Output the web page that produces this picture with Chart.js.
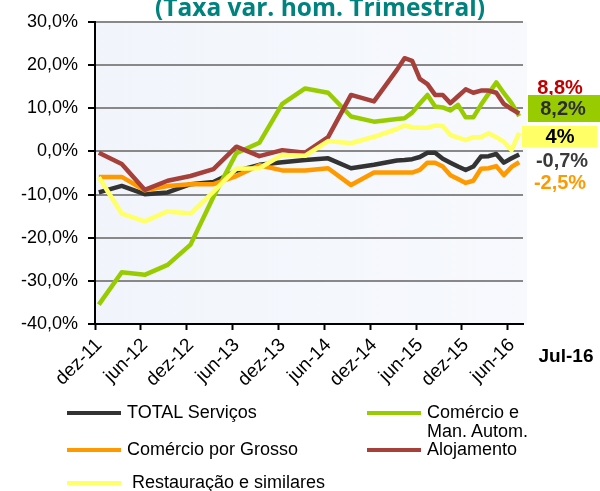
<!DOCTYPE html>
<html>
<head>
<meta charset="utf-8">
<script src="https://cdn.jsdelivr.net/npm/chart.js@4.4.0/dist/chart.umd.min.js"></script>
<style>
html,body{margin:0;padding:0;background:#fff;}
#wrap{position:relative;width:600px;height:491px;overflow:hidden;}
#c{position:absolute;left:0;top:0;}
.lg{position:absolute;font-family:"Liberation Sans",Arial,sans-serif;font-size:18px;line-height:19px;color:#000;white-space:nowrap;}
.lg .sw{position:absolute;left:0;top:8px;width:54px;height:4px;}
.lg .tx{position:absolute;left:60px;top:0;}
</style>
</head>
<body>
<div id="wrap">
<canvas id="c" width="600" height="491"></canvas>
<div id="legend"></div>
</div>
<script>
// ---- data (month index: 0 = dez-11) ----
const months = [0,3,6,9,12,15,18,21,24,27,30,33,36,39,40,41,42,43,44,45,46,47,48,49,50,51,52,53,54,55];
const totalServicos = [-9.5,-8.0,-9.9,-9.5,-7.6,-7.1,-4.5,-3.1,-2.5,-2.0,-1.6,-3.9,-3.1,-2.1,-2.0,-1.8,-1.3,-0.3,-0.3,-1.7,-2.6,-3.5,-4.3,-3.5,-1.2,-1.1,-0.6,-2.6,-1.6,-0.7];
const comercioAutom = [-35.5,-28.0,-28.6,-26.3,-21.6,-10.5,-0.4,2.0,11.0,14.6,13.6,8.1,6.9,7.5,7.7,9.0,11.1,13.1,10.4,10.2,9.5,10.8,7.9,7.9,10.8,13.4,16.0,13.5,11.2,8.2];
const comercioGrosso = [-5.9,-5.9,-9.0,-8.0,-7.6,-7.6,-5.7,-3.2,-4.4,-4.4,-3.9,-7.8,-4.9,-4.9,-4.9,-4.9,-4.3,-2.6,-2.6,-3.5,-5.5,-6.4,-7.3,-6.8,-4.0,-3.9,-3.4,-5.5,-3.6,-2.5];
const alojamento = [-0.3,-2.9,-8.9,-6.8,-5.7,-4.1,1.1,-1.1,0.3,-0.3,3.3,13.1,11.6,18.9,21.6,21.0,16.8,15.6,13.1,13.1,11.2,12.8,14.4,13.6,14.1,14.1,13.6,11.0,9.8,8.8];
const restauracao = [-6.0,-14.4,-16.2,-13.9,-14.4,-9.3,-4.0,-3.9,-0.8,-1.0,2.4,1.9,3.4,5.2,6.0,5.6,5.5,5.5,6.0,5.9,3.8,3.2,2.6,3.3,3.3,4.2,3.3,2.2,0.3,4.3];

const seriesNames = ['TOTAL Serviços','Comércio e Man. Autom.','Comércio por Grosso','Alojamento','Restauração e similares'];
const xTickMonths = [0,6,12,18,24,30,36,42,48,54];
const xTickLabels = ['dez-11','jun-12','dez-12','jun-13','dez-13','jun-14','dez-14','jun-15','dez-15','jun-16'];
const yTickValues = [30,20,10,0,-10,-20,-30,-40];
const titleText = '(Taxa var. hom. Trimestral)';
const lastMonthLabel = 'Jul-16';
const endLabels = ['8,8%','8,2%','4%','-0,7%','-2,5%'];

// ---- styles ----
const colors = ['#333333','#99cc00','#ff9900','#a5403a','#ffff66'];
const drawOrder = [4,3,2,1,0];
const valueSets = [totalServicos, comercioAutom, comercioGrosso, alojamento, restauracao];
const FONT = '"Liberation Sans", Arial, sans-serif';

const datasets = valueSets.map((vals, k) => ({
  label: seriesNames[k],
  data: months.map((m, i) => ({x: m + 0.5, y: vals[i]})),
  borderColor: colors[k],
  backgroundColor: colors[k],
  borderWidth: 4.5,
  pointRadius: 0,
  tension: 0,
  fill: false,
  borderJoinStyle: 'round',
  order: drawOrder[k]
}));

const bgPlugin = {
  id: 'bg',
  beforeDraw(chart) {
    const {ctx, chartArea: a} = chart;
    ctx.save();
    const g = ctx.createLinearGradient(a.left, 0, a.right, 0);
    g.addColorStop(0, '#f1f5fb');
    g.addColorStop(1, '#f7f9fd');
    ctx.fillStyle = g;
    ctx.fillRect(a.left, a.top, a.right - a.left + 4, a.bottom - a.top);
    ctx.restore();
  }
};

const textPlugin = {
  id: 'texts',
  afterDraw(chart) {
    const ctx = chart.ctx;
    ctx.save();
    // title (partly cut at the top)
    let fs = 24;
    ctx.font = 'bold ' + fs + 'px "Open Sans", sans-serif';
    const w = ctx.measureText(titleText).width;
    fs = fs * 330 / w;
    ctx.font = 'bold ' + fs.toFixed(2) + 'px "Open Sans", sans-serif';
    ctx.fillStyle = '#00827e';
    ctx.textAlign = 'center';
    ctx.textBaseline = 'alphabetic';
    ctx.fillText(titleText, 320, 16);

    // month label
    ctx.font = 'bold 19px ' + FONT;
    ctx.fillStyle = '#000';
    ctx.textBaseline = 'middle';
    ctx.fillText(lastMonthLabel, 566, 357);

    // end labels
    ctx.font = 'bold 20px ' + FONT;
    ctx.fillStyle = '#c00000';
    ctx.fillText(endLabels[0], 560, 88);

    ctx.fillStyle = '#99cc00';
    ctx.fillRect(528, 95, 72, 27);
    ctx.fillStyle = '#2d2d2d';
    ctx.fillText(endLabels[1], 563, 109);

    ctx.fillStyle = '#ffff66';
    ctx.fillRect(522, 126, 75, 21);
    ctx.fillStyle = '#000';
    ctx.fillText(endLabels[2], 560, 137);

    ctx.fillStyle = '#3a3a3a';
    ctx.fillText(endLabels[3], 562, 161);

    ctx.fillStyle = '#ff9900';
    ctx.fillText(endLabels[4], 560, 183);
    ctx.restore();
  }
};

const chart = new Chart(document.getElementById('c'), {
  type: 'line',
  data: {datasets},
  options: {
    responsive: false,
    animation: false,
    events: [],
    layout: {padding: {top: 22, right: 77, bottom: 0, left: 0}},
    plugins: {legend: {display: false}, title: {display: false}, tooltip: {enabled: false}},
    scales: {
      x: {
        type: 'linear', min: 0, max: 56,
        afterBuildTicks: s => { s.ticks = xTickMonths.map(v => ({value: v})); },
        afterFit: s => { s.height = 167; },
        ticks: {
          autoSkip: false, maxRotation: 45, minRotation: 45, padding: 4, labelOffset: 4,
          color: '#000', font: {family: FONT, size: 19},
          callback: (v, i) => xTickLabels[i]
        },
        grid: {drawOnChartArea: false, drawTicks: true, tickLength: 6, tickColor: '#000', tickWidth: 2},
        border: {color: '#000', width: 2}
      },
      y: {
        min: -40, max: 30,
        afterBuildTicks: s => { s.ticks = yTickValues.map(v => ({value: v})); },
        afterFit: s => { s.width = 95; },
        ticks: {
          color: '#000', padding: 10, font: {family: FONT, size: 18},
          callback: v => v.toFixed(1).replace('.', ',') + '%'
        },
        grid: {
          color: c => (c.tick && c.tick.value === -40) ? 'rgba(0,0,0,0)' : '#888888',
          lineWidth: 2, tickColor: '#000', tickLength: 7, tickWidth: 2
        },
        border: {color: '#000', width: 2}
      }
    }
  },
  plugins: [bgPlugin, textPlugin]
});

// ---- HTML legend (two columns) ----
const legendPos = [[67,413],[367,413],[67,450],[367,450],[67,483]];
const legendTextShift = [0,0,0,0,5];
const lg = document.getElementById('legend');
datasets.forEach((ds, k) => {
  const d = document.createElement('div');
  d.className = 'lg';
  d.style.left = legendPos[k][0] + 'px';
  d.style.top = (legendPos[k][1] - 10) + 'px';
  const sw = document.createElement('div');
  sw.className = 'sw';
  sw.style.background = ds.borderColor;
  const tx = document.createElement('div');
  tx.className = 'tx';
  tx.style.left = (60 + legendTextShift[k]) + 'px';
  tx.textContent = ds.label;
  if (k === 1) { tx.style.whiteSpace = 'normal'; tx.style.width = '115px'; tx.style.lineHeight = '19px'; }
  d.appendChild(sw); d.appendChild(tx);
  lg.appendChild(d);
});
</script>
</body>
</html>
